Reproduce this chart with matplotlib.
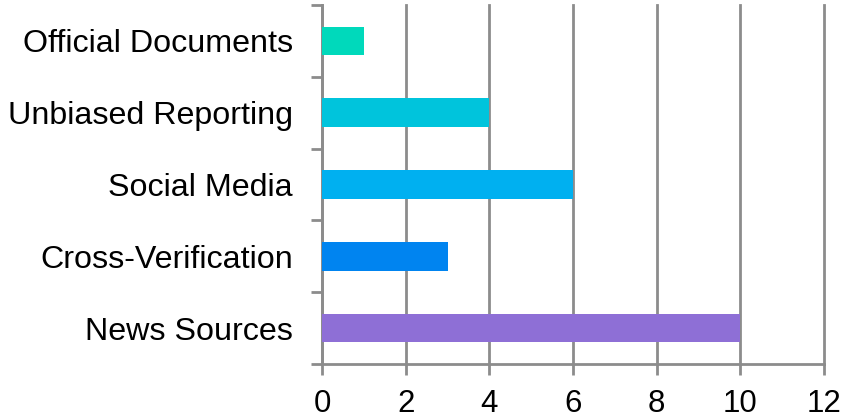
import numpy as np
import matplotlib
matplotlib.use('Agg')
from matplotlib import pyplot as plt

categories = ['News Sources', 'Cross-Verification', 'Social Media', 'Unbiased Reporting', 'Official Documents']
values = [10, 3, 6, 4, 1]
colors = ['#8E6FD6', '#0084F0', '#00B0F0', '#00C4DC', '#00D9BB']
xticks = [0, 2, 4, 6, 8, 10, 12]

plt.rcParams['font.family'] = ['Liberation Sans', 'DejaVu Sans']
grid_col = '#8c8c8c'

fig = plt.figure(figsize=(8.46, 4.18), dpi=100)
ax = fig.add_axes([322/846, 54/418, 502/846, 359/418])

y = np.arange(len(categories))
ax.barh(y, values, height=0.4, color=colors, zorder=3)

ax.set_xlim(0, 12)
ax.set_ylim(-0.5, len(categories) - 0.5)
ax.set_xticks(xticks)
ax.set_xticklabels([str(t) for t in xticks], fontsize=22.5)
ax.xaxis.grid(True, color=grid_col, linewidth=2, zorder=0)
for gl in ax.get_xgridlines():
    gl.set_clip_on(False)

# boundary ticks on the y axis, labels centred between them
ax.set_yticks(np.arange(len(categories) + 1) - 0.5)
ax.set_yticklabels([])
ax.set_yticks(y, minor=True)
ax.set_yticklabels(categories, minor=True, fontsize=23.2)
ax.tick_params(axis='y', which='minor', length=0, pad=21)
ax.tick_params(axis='y', which='major', length=8, width=2, color=grid_col)
ax.tick_params(axis='x', length=8, width=2, color=grid_col, pad=10)

for s in ['top', 'right']:
    ax.spines[s].set_visible(False)
for s in ['left', 'bottom']:
    ax.spines[s].set_color(grid_col)
    ax.spines[s].set_linewidth(2)

fig.savefig('out.png', dpi=100)
